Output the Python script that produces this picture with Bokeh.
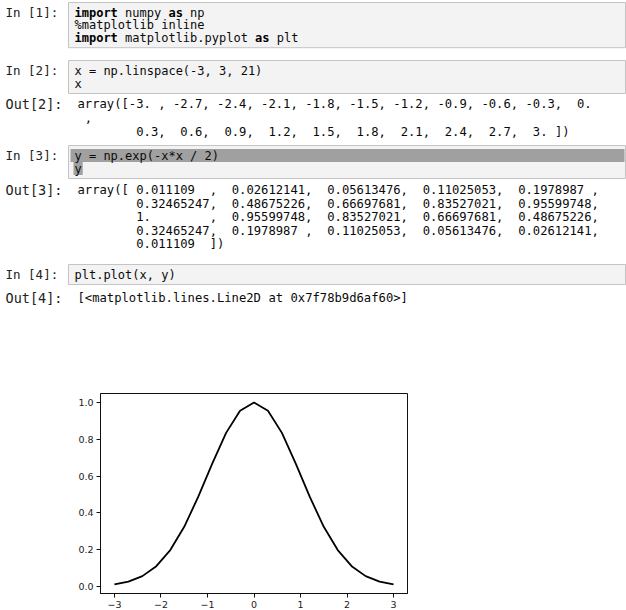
import re
from bokeh.plotting import figure
from bokeh.models import Range1d, FixedTicker
from bokeh.core.properties import value
from bokeh.embed import file_html
from bokeh.resources import INLINE

# ---------------- data ----------------
x_vals = [-3.0, -2.7, -2.4, -2.1, -1.8, -1.5, -1.2, -0.9, -0.6, -0.3, 0.0,
          0.3, 0.6, 0.9, 1.2, 1.5, 1.8, 2.1, 2.4, 2.7, 3.0]
y_vals = [0.011109, 0.02612141, 0.05613476, 0.11025053, 0.1978987,
          0.32465247, 0.48675226, 0.66697681, 0.83527021, 0.95599748,
          1.0, 0.95599748, 0.83527021, 0.66697681, 0.48675226,
          0.32465247, 0.1978987, 0.11025053, 0.05613476, 0.02612141, 0.011109]
x_ticks = [-3, -2, -1, 0, 1, 2, 3]
x_tick_labels = ["\u22123", "\u22122", "\u22121", "0", "1", "2", "3"]
y_ticks = [0.0, 0.2, 0.4, 0.6, 0.8, 1.0]
y_tick_labels = ["0.0", "0.2", "0.4", "0.6", "0.8", "1.0"]

in1_code = ["import numpy as np", "%matplotlib inline", "import matplotlib.pyplot as plt"]
in2_code = ["x = np.linspace(-3, 3, 21)", "x"]
out2_text = ["array([-3. , -2.7, -2.4, -2.1, -1.8, -1.5, -1.2, -0.9, -0.6, -0.3,  0.",
             " ,",
             "        0.3,  0.6,  0.9,  1.2,  1.5,  1.8,  2.1,  2.4,  2.7,  3. ])"]
in3_code = ["y = np.exp(-x*x / 2)", "y"]
out3_text = ["array([ 0.011109  ,  0.02612141,  0.05613476,  0.11025053,  0.1978987 ,",
             "        0.32465247,  0.48675226,  0.66697681,  0.83527021,  0.95599748,",
             "        1.        ,  0.95599748,  0.83527021,  0.66697681,  0.48675226,",
             "        0.32465247,  0.1978987 ,  0.11025053,  0.05613476,  0.02612141,",
             "        0.011109  ])"]
in4_code = ["plt.plot(x, y)"]
out4_text = ["[<matplotlib.lines.Line2D at 0x7f78b9d6af60>]"]
keywords = ["import", "as"]

# ---------------- layout constants ----------------
W = 626
TOP_H = 383
MONO = "DejaVu Sans Mono"
FS_IN = 12.0
FS_OUT = 12.2
X_IN = 74
X_OUT = 77
PROMPT_X = 5
BOX_L, BOX_R = 68, 625
TXT = "#0a0a0a"

cells = [
    ("In [1]:", in1_code, "in", 12, 12.6),
    ("In [2]:", in2_code, "in", 70, 13.0),
    ("Out[2]:", out2_text, "out", 103, 14.0),
    ("In [3]:", in3_code, "in", 155, 13.0),
    ("Out[3]:", out3_text, "out", 189, 13.6),
    ("In [4]:", in4_code, "in", 274, 13.0),
    ("Out[4]:", out4_text, "out", 297, 13.0),
]

p1 = figure(width=W, height=TOP_H, x_range=Range1d(0, W), y_range=Range1d(TOP_H, 0),
            output_backend="svg", toolbar_location=None,
            x_axis_location=None, y_axis_location=None,
            min_border=0, min_border_left=0, min_border_right=0,
            min_border_top=0, min_border_bottom=0)
p1.grid.visible = False
p1.outline_line_color = None
p1.background_fill_color = "white"
p1.border_fill_color = "white"

# input boxes
bl, br, bt, bb = [], [], [], []
for prompt, lines, kind, y0, lh in cells:
    if kind == "in":
        bl.append(BOX_L)
        br.append(BOX_R)
        bt.append(y0 - 10)
        bb.append(y0 + (len(lines) - 1) * lh + 10)
p1.quad(left=bl, right=br, top=bt, bottom=bb, fill_color="#f3f3f3",
        line_color="#c4c4c4", line_width=1)

# selection highlight in cell 3
y3 = cells[3][3]
lh3 = cells[3][4]
cw_in = FS_IN * 0.602
p1.quad(left=[BOX_L + 2, X_IN - 1], right=[BOX_R - 1, X_IN + cw_in + 1],
        top=[y3 - 6.5, y3 + lh3 - 6.5], bottom=[y3 + 6.5, y3 + lh3 + 6.5],
        fill_color="#a0a0a0", line_color=None)

# texts
pin = dict(x=[], y=[], t=[])
pout = dict(x=[], y=[], t=[])
tin = dict(x=[], y=[], t=[])
tout = dict(x=[], y=[], t=[])
kw = dict(x=[], y=[], t=[])
for prompt, lines, kind, y0, lh in cells:
    pd_ = pin if kind == "in" else pout
    pd_["x"].append(PROMPT_X); pd_["y"].append(y0); pd_["t"].append(prompt)
    x0 = X_IN if kind == "in" else X_OUT
    cw = (FS_IN if kind == "in" else FS_OUT) * 0.602
    for i, line in enumerate(lines):
        for m in re.finditer(r"\S+", line):
            xx = x0 + m.start() * cw
            yy = y0 + i * lh
            if kind == "in" and m.group() in keywords:
                d = kw
            elif kind == "in":
                d = tin
            else:
                d = tout
            d["x"].append(xx); d["y"].append(yy); d["t"].append(m.group())

p1.text(x=pin["x"], y=pin["y"], text=pin["t"], text_font=value(MONO), text_font_size="12.5px",
        text_align="left", text_baseline="middle", text_color="#222222")
p1.text(x=pout["x"], y=pout["y"], text=pout["t"], text_font=value(MONO), text_font_size="13.5px",
        text_align="left", text_baseline="middle", text_color="#222222")
p1.text(x=tin["x"], y=tin["y"], text=tin["t"], text_font=value(MONO), text_font_size=f"{FS_IN}px",
        text_align="left", text_baseline="middle", text_color=TXT)
p1.text(x=tout["x"], y=tout["y"], text=tout["t"], text_font=value(MONO), text_font_size=f"{FS_OUT}px",
        text_align="left", text_baseline="middle", text_color=TXT)
p1.text(x=kw["x"], y=kw["y"], text=kw["t"], text_font=value(MONO), text_font_size=f"{FS_IN}px",
        text_font_style="bold", text_align="left", text_baseline="middle",
        text_color="#000000")

# ---------------- matplotlib-like plot ----------------
p2 = figure(width=W, height=610 - TOP_H,
            x_range=Range1d(-3.3, 3.3), y_range=Range1d(-0.0383, 1.0494),
            output_backend="svg", toolbar_location=None,
            min_border_left=100, min_border_right=219,
            min_border_top=10, min_border_bottom=17)
p2.grid.visible = False
p2.outline_line_color = "#111111"
p2.outline_line_width = 1
p2.background_fill_color = "white"
p2.border_fill_color = "white"

p2.line(x=x_vals, y=y_vals, line_color="#000000", line_width=1.8)

p2.xaxis.ticker = FixedTicker(ticks=x_ticks)
p2.yaxis.ticker = FixedTicker(ticks=y_ticks)
p2.xaxis.major_label_overrides = {t: l for t, l in zip(x_ticks, x_tick_labels)}
p2.yaxis.major_label_overrides = {t: l for t, l in zip(y_ticks, y_tick_labels)}
for ax in (p2.xaxis, p2.yaxis):
    ax.axis_line_color = "#111111"
    ax.major_tick_line_color = "#111111"
    ax.major_tick_in = 0
    ax.major_tick_out = 4
    ax.minor_tick_line_color = None
    ax.major_label_text_font = "DejaVu Sans"
    ax.major_label_text_font_size = "9.5px"
    ax.major_label_text_color = "#1a1a1a"
    ax.major_label_standoff = 3

open("out.html", "w").write(file_html([p1, p2], INLINE))
